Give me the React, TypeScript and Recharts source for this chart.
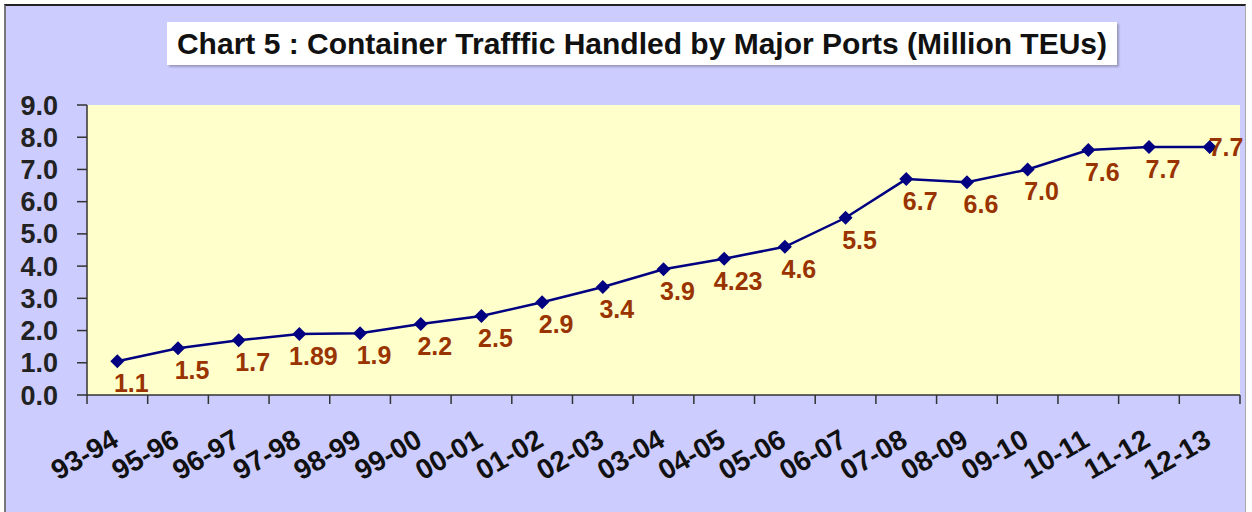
import { LineChart, Line, XAxis, YAxis, CartesianGrid, LabelList } from "recharts";

const years = [
  "93-94", "95-96", "96-97", "97-98", "98-99", "99-00", "00-01", "01-02", "02-03", "03-04",
  "04-05", "05-06", "06-07", "07-08", "08-09", "09-10", "10-11", "11-12", "12-13",
];
const teus = [1.05, 1.45, 1.7, 1.89, 1.92, 2.2, 2.45, 2.88, 3.35, 3.9, 4.23, 4.6, 5.5, 6.7, 6.6, 7.0, 7.6, 7.7, 7.7];
const valueLabels = [
  "1.1", "1.5", "1.7", "1.89", "1.9", "2.2", "2.5", "2.9", "3.4", "3.9",
  "4.23", "4.6", "5.5", "6.7", "6.6", "7.0", "7.6", "7.7", "7.7",
];
const yTicks = [0, 1, 2, 3, 4, 5, 6, 7, 8, 9];

const data = years.map((year, i) => ({ year, teus: teus[i], label: valueLabels[i] }));

const W = 1252;
const H = 512;
const PLOT_LEFT = 87;
const PLOT_RIGHT = 1240;
const PLOT_BOTTOM = 395;
const HALF = (PLOT_RIGHT - PLOT_LEFT) / years.length / 2;
const FONT = "'Liberation Sans', Arial, sans-serif";

const Diamond = (props: any) => {
  const { cx, cy } = props;
  if (cx == null || cy == null) return null;
  const r = 7;
  return (
    <polygon
      points={`${cx},${cy - r} ${cx + r},${cy} ${cx},${cy + r} ${cx - r},${cy}`}
      fill="#000080"
    />
  );
};

const XTick = (props: any) => {
  const { x, index, payload } = props;
  const last = index === years.length - 1;
  return (
    <g>
      <line x1={x - HALF} y1={PLOT_BOTTOM} x2={x - HALF} y2={PLOT_BOTTOM + 9} stroke="#333" strokeWidth={1.5} />
      {last && (
        <line x1={x + HALF} y1={PLOT_BOTTOM} x2={x + HALF} y2={PLOT_BOTTOM + 9} stroke="#333" strokeWidth={1.5} />
      )}
      <text
        x={0}
        y={0}
        transform={`translate(${x + 3},${PLOT_BOTTOM + 50}) rotate(-30)`}
        textAnchor="end"
        fontFamily={FONT}
        fontWeight={700}
        fontSize={28}
        fill="#111"
      >
        {payload.value}
      </text>
    </g>
  );
};

const PointLabel = (props: any) => {
  const { x, y, index } = props;
  const last = index === years.length - 1;
  return (
    <text
      x={last ? x - 1 : x + 14}
      y={last ? y + 9 : y + 31}
      textAnchor={last ? "start" : "middle"}
      fontFamily={FONT}
      fontWeight={700}
      fontSize={25}
      fill="#993300"
    >
      {valueLabels[index]}
    </text>
  );
};

export default function App() {
  return (
    <div
      style={{
        position: "absolute",
        left: 0,
        top: 0,
        width: W,
        height: H,
        overflow: "hidden",
        background: "#fff",
      }}
    >
      <div
        style={{
          position: "absolute",
          left: 4,
          top: 4,
          width: 1242,
          height: 520,
          background: "#CCCCFF",
          borderTop: "2px solid #222",
          borderLeft: "2px solid #777",
          borderRight: "1px solid #aaa",
          boxSizing: "border-box",
        }}
      />
      <div
        style={{
          position: "absolute",
          left: 167,
          top: 22,
          width: 950,
          height: 43,
          background: "#fff",
          boxShadow: "2px 2px 2px rgba(0,0,0,0.25)",
          display: "flex",
          alignItems: "center",
          justifyContent: "center",
          fontFamily: FONT,
          fontWeight: 700,
          fontSize: 30,
          color: "#111",
          whiteSpace: "nowrap",
        }}
      >
        Chart 5 : Container Trafffic Handled by Major Ports (Million TEUs)
      </div>
      <div style={{ position: "absolute", left: 0, top: 0 }}>
        <LineChart width={W} height={H} data={data} margin={{ top: 105, right: 12, bottom: 7, left: 7 }}>
          <CartesianGrid horizontal={false} vertical={false} fill="#FFFFCC" />
          <XAxis
            dataKey="year"
            height={110}
            padding={{ left: HALF, right: HALF }}
            interval={0}
            tickLine={false}
            axisLine={{ stroke: "#333", strokeWidth: 1.5 }}
            tick={<XTick />}
          />
          <XAxis
            xAxisId="top"
            dataKey="year"
            orientation="top"
            height={0}
            tick={false}
            tickLine={false}
            axisLine={{ stroke: "#666", strokeWidth: 1.5 }}
          />
          <YAxis
            domain={[0, 9]}
            ticks={yTicks}
            width={80}
            interval={0}
            tickSize={10}
            tickMargin={19}
            tickFormatter={(v: number) => v.toFixed(1)}
            axisLine={{ stroke: "#333", strokeWidth: 1.5 }}
            tickLine={{ stroke: "#333", strokeWidth: 1.5 }}
            tick={{ fontFamily: FONT, fontWeight: 700, fontSize: 27, fill: "#222" }}
          />
          <YAxis
            yAxisId="right"
            orientation="right"
            domain={[0, 9]}
            width={0}
            tick={false}
            tickLine={false}
            axisLine={{ stroke: "#808080", strokeWidth: 1.5 }}
          />
          <Line
            dataKey="teus"
            stroke="#000080"
            strokeWidth={2.5}
            dot={<Diamond />}
            activeDot={false}
            isAnimationActive={false}
          >
            <LabelList dataKey="label" content={<PointLabel />} />
          </Line>
        </LineChart>
      </div>
    </div>
  );
}
